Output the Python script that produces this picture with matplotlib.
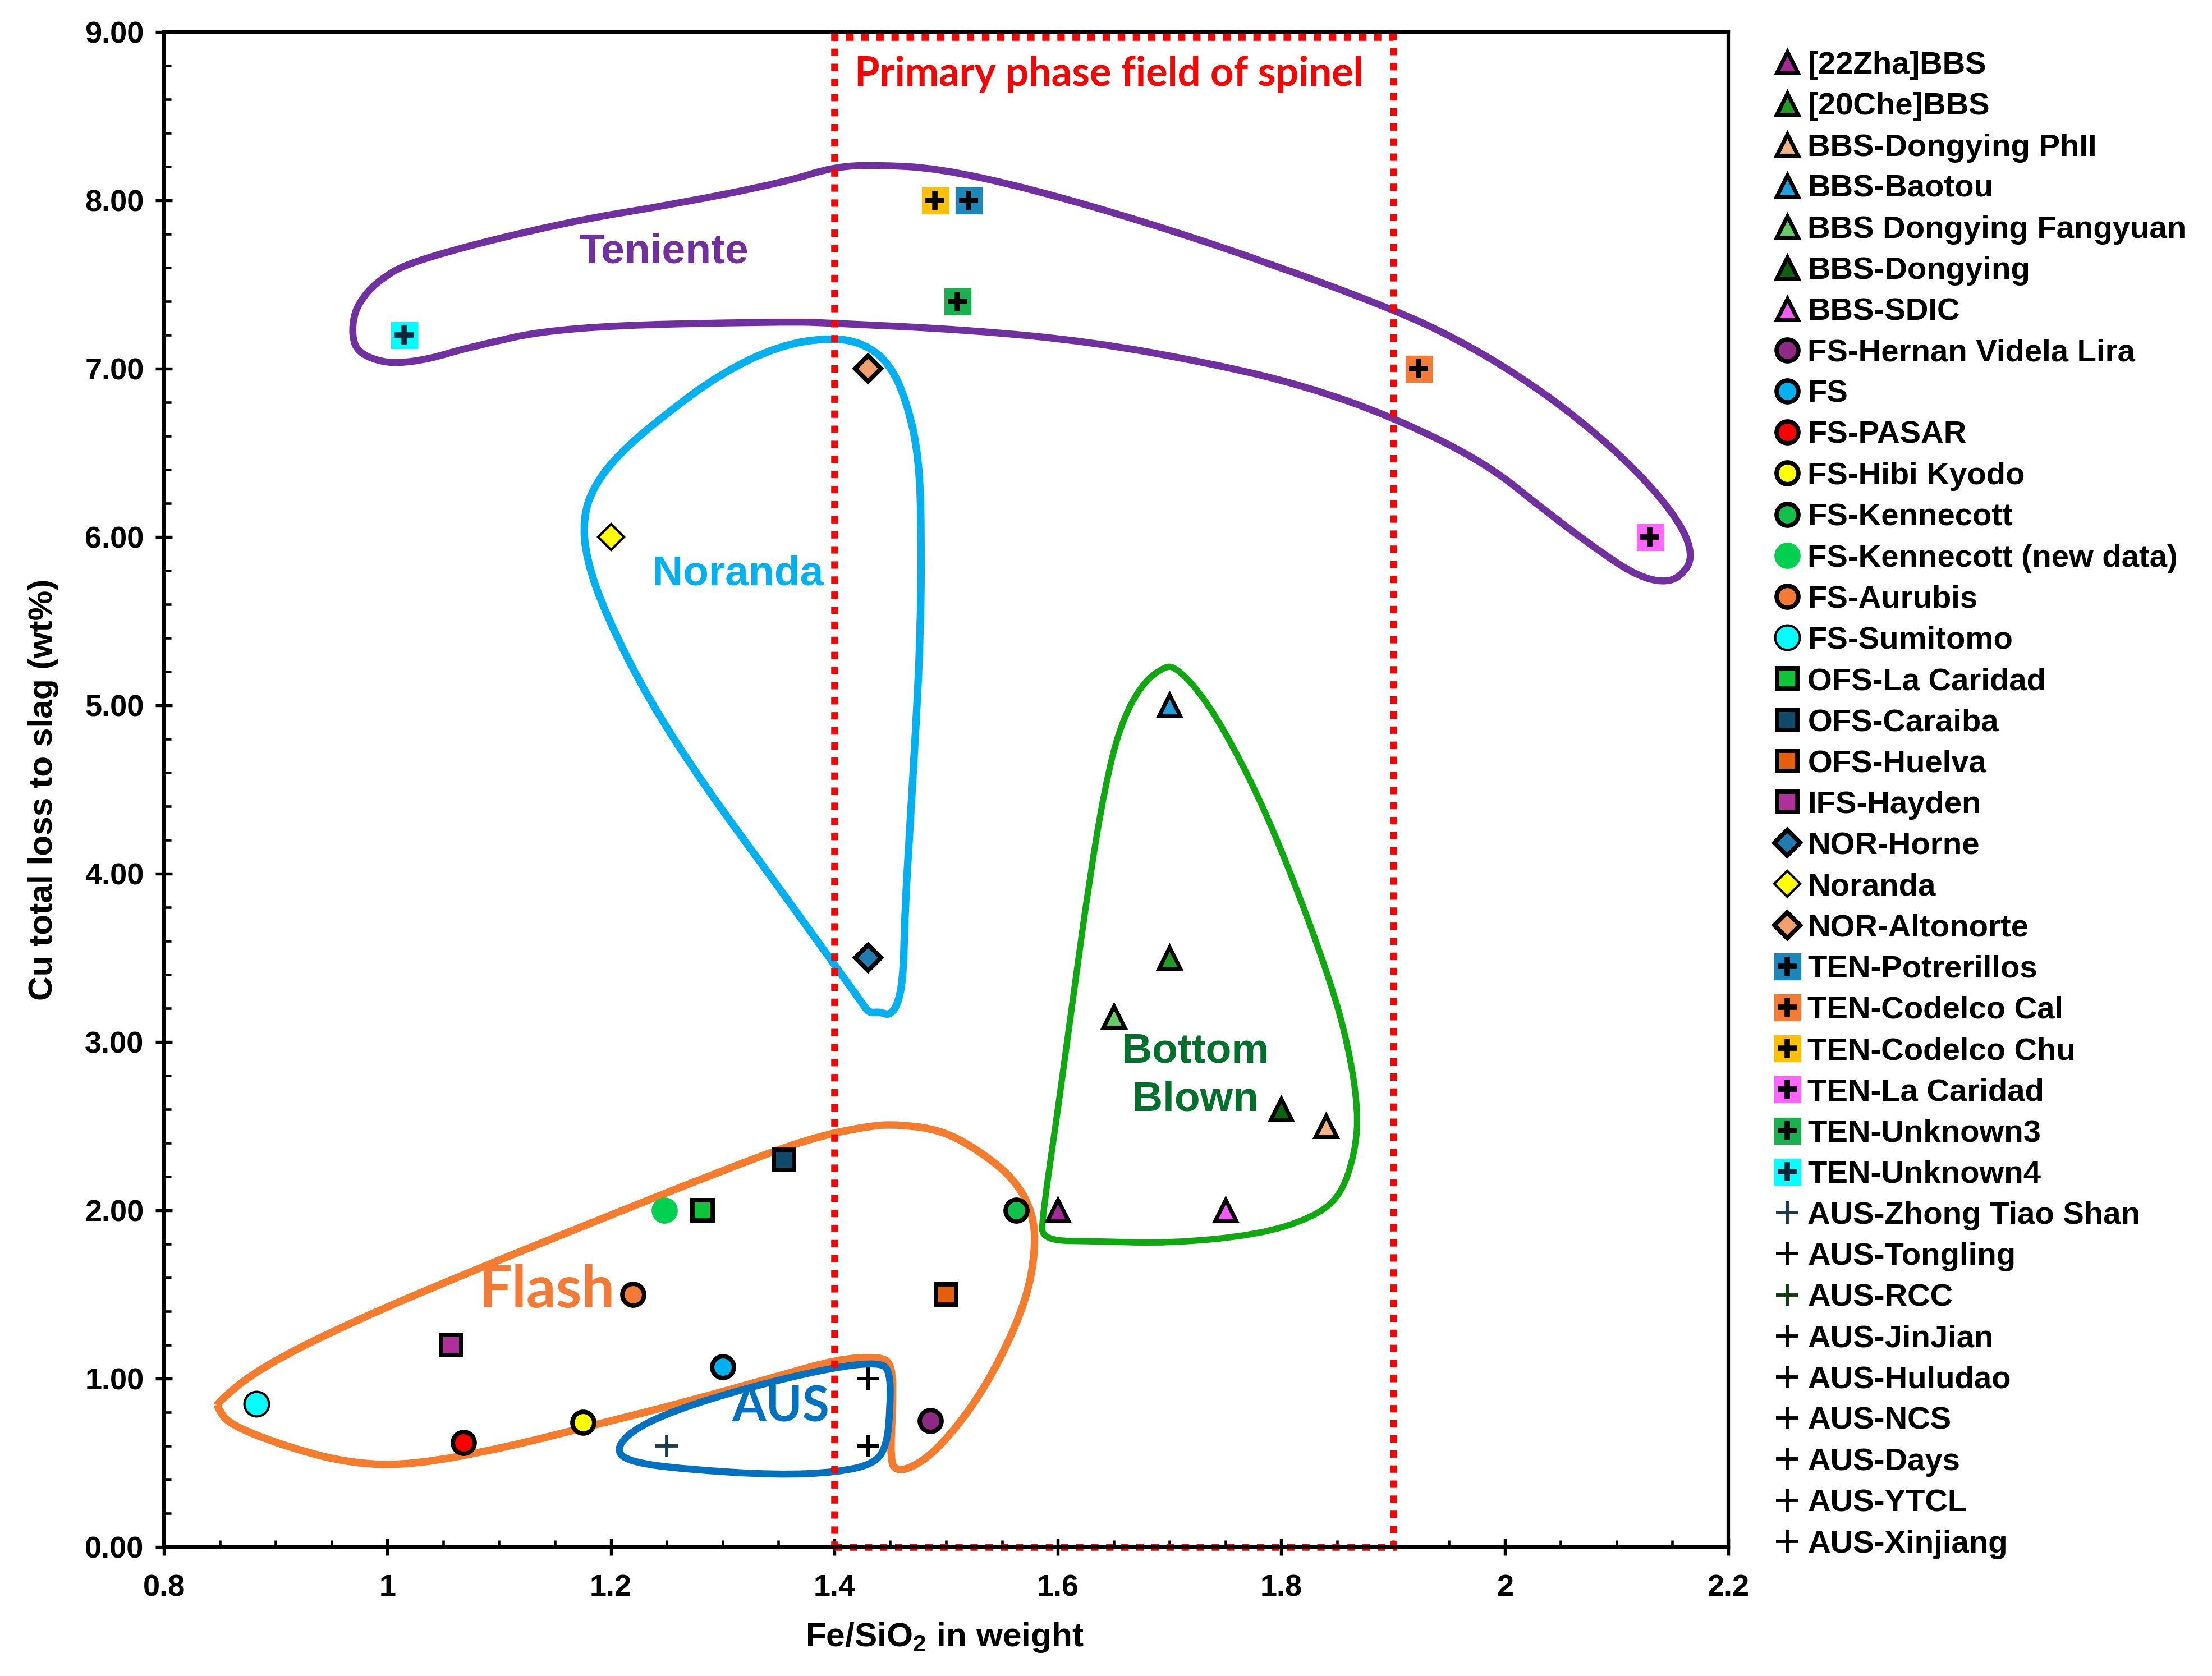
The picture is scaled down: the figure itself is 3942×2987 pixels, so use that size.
import matplotlib
matplotlib.use("Agg")
import matplotlib.pyplot as plt
from matplotlib.path import Path
from matplotlib.patches import PathPatch, Rectangle
from matplotlib.ticker import MultipleLocator, FuncFormatter
from matplotlib.legend_handler import HandlerTuple

plt.rcParams["font.family"] = ["Liberation Sans", "DejaVu Sans"]
plt.rcParams["font.weight"] = "bold"
plt.rcParams["axes.labelweight"] = "bold"
plt.rcParams["mathtext.fontset"] = "custom"
plt.rcParams["mathtext.rm"] = "Liberation Sans:bold"
plt.rcParams["mathtext.bf"] = "Liberation Sans:bold"

# ---- data (Fe/SiO2, Cu loss wt%) ----
names = ["[22Zha]BBS", "[20Che]BBS", "BBS-Dongying PhII", "BBS-Baotou", "BBS Dongying Fangyuan",
         "BBS-Dongying", "BBS-SDIC",
         "FS-Hernan Videla Lira", "FS", "FS-PASAR", "FS-Hibi Kyodo", "FS-Kennecott",
         "FS-Kennecott (new data)", "FS-Aurubis", "FS-Sumitomo",
         "OFS-La Caridad", "OFS-Caraiba", "OFS-Huelva", "IFS-Hayden",
         "NOR-Horne", "Noranda", "NOR-Altonorte",
         "TEN-Potrerillos", "TEN-Codelco Cal", "TEN-Codelco Chu", "TEN-La Caridad",
         "TEN-Unknown3", "TEN-Unknown4",
         "AUS-Zhong Tiao Shan", "AUS-Tongling", "AUS-RCC", "AUS-JinJian", "AUS-Huludao",
         "AUS-NCS", "AUS-Days", "AUS-YTCL", "AUS-Xinjiang"]

fe_sio2 = [[1.60], [1.70], [1.84], [1.70], [1.65], [1.80], [1.75],
           [1.486], [1.30], [1.068], [1.175], [1.563], [1.248], [1.22], [0.883],
           [1.282], [1.355], [1.50], [1.057],
           [1.43], [1.20], [1.43],
           [1.52], [1.923], [1.49], [2.13], [1.51], [1.015],
           [1.25], [1.43], [1.43], [1.43], [1.43], [1.43], [1.43], [1.43], [1.43]]

cu_loss = [[2.0], [3.5], [2.5], [5.0], [3.15], [2.6], [2.0],
           [0.75], [1.07], [0.62], [0.74], [2.0], [2.0], [1.5], [0.85],
           [2.0], [2.3], [1.5], [1.2],
           [3.5], [6.0], [7.0],
           [8.0], [7.0], [8.0], [6.0], [7.4], [7.2],
           [0.6], [1.0], [0.6], [0.6], [1.0], [0.6], [0.6], [1.0], [0.6]]

# ---- marker styles ----
kinds = ["tri"] * 7 + ["circ"] * 8 + ["sq"] * 4 + ["dia"] * 3 + ["ten"] * 6 + ["aus"] * 9
fills = ["#A52A98", "#1F9E1F", "#F4B183", "#1EA0DC", "#66CC66", "#0B640B", "#F25CF2",
         "#8E2A84", "#00B0F0", "#FF0000", "#FFFF00", "#12C04A", "#00D050", "#F47B35", "#00FFFF",
         "#10C43A", "#0E4A6B", "#E45F0C", "#B0309B",
         "#1F7BB0", "#FFFF00", "#F4A06A",
         "#1B86BA", "#F47B35", "#FFC000", "#FF66FF", "#19B050", "#00FFFF",
         "#1F3A4D", "black", "#0B3B0B", "black", "black", "black", "black", "black", "black"]
thin_edge = {"FS-Sumitomo", "Noranda"}
no_edge = {"FS-Kennecott (new data)"}

# ---- hand-drawn process envelopes ----
ten_x = [0.969, 0.974, 0.990, 1.022, 1.156, 1.26, 1.357, 1.400, 1.439, 1.493, 1.575, 1.684, 1.792,
         1.901, 1.956, 2.010, 2.065, 2.119, 2.157, 2.169, 2.157, 2.141, 2.119, 2.092, 2.037,
         1.983, 1.901, 1.820, 1.738, 1.630, 1.520, 1.400, 1.357, 1.156, 1.070, 1.038, 1.009,
         0.990, 0.974, 0.969]
ten_y = [7.282, 7.388, 7.515, 7.643, 7.867, 7.98, 8.11, 8.20, 8.21, 8.19, 8.07, 7.86, 7.62,
         7.35, 7.18, 6.97, 6.71, 6.39, 6.09, 5.88, 5.76, 5.73, 5.77, 5.88, 6.15,
         6.44, 6.71, 6.90, 7.03, 7.16, 7.23, 7.27, 7.28, 7.25, 7.122, 7.058, 7.031,
         7.048, 7.10, 7.175]

nor_x = [1.396, 1.427, 1.450, 1.465, 1.476, 1.478, 1.477, 1.473, 1.468, 1.463, 1.462, 1.458,
         1.450, 1.440, 1.431, 1.424, 1.388, 1.337, 1.285, 1.234, 1.196, 1.178, 1.175, 1.185,
         1.208, 1.247, 1.298, 1.350]
nor_y = [7.186, 7.15, 7.025, 6.80, 6.47, 5.975, 5.42, 4.87, 4.32, 3.76, 3.43, 3.24,
         3.156, 3.18, 3.17, 3.24, 3.57, 4.04, 4.51, 5.03, 5.53, 5.865, 6.113, 6.307,
         6.50, 6.72, 6.97, 7.136]

fla_x = [0.848, 0.886, 0.968, 1.077, 1.185, 1.294, 1.376, 1.431, 1.458, 1.496, 1.529, 1.561,
         1.578, 1.580, 1.572, 1.550, 1.523, 1.491, 1.469, 1.455, 1.450, 1.452, 1.452, 1.441,
         1.403, 1.349, 1.267, 1.185, 1.104, 1.022, 0.968, 0.913, 0.859, 0.848]
fla_y = [0.86, 1.065, 1.337, 1.643, 1.932, 2.221, 2.425, 2.502, 2.51, 2.476, 2.357, 2.188,
         1.983, 1.76, 1.473, 1.132, 0.826, 0.57, 0.469, 0.453, 0.52, 0.826, 1.081, 1.132,
         1.115, 1.014, 0.861, 0.724, 0.588, 0.486, 0.495, 0.588, 0.724, 0.826]

aus_x = [1.441, 1.397, 1.322, 1.256, 1.218, 1.204, 1.218, 1.267, 1.349, 1.403, 1.436, 1.447,
         1.450, 1.450]
aus_y = [1.098, 1.065, 0.946, 0.81, 0.69, 0.572, 0.503, 0.461, 0.427, 0.444, 0.494, 0.603,
         0.826, 1.04]

bb_x = [1.696, 1.674, 1.655, 1.642, 1.629, 1.613, 1.600, 1.586, 1.586, 1.635, 1.699, 1.779,
        1.828, 1.853, 1.866, 1.869, 1.860, 1.844, 1.812, 1.780, 1.748, 1.725, 1.706]
bb_y = [5.235, 5.12, 4.865, 4.507, 3.998, 3.231, 2.594, 1.956, 1.82, 1.816, 1.803, 1.854,
        1.956, 2.084, 2.339, 2.594, 2.977, 3.36, 3.946, 4.456, 4.865, 5.095, 5.222]

spinel_x = (1.4, 1.9)
spinel_top = 8.97


def smooth_closed(xs, ys):
    pts = list(zip(xs, ys))
    n = len(pts)
    mids = [((pts[i][0] + pts[(i + 1) % n][0]) / 2, (pts[i][1] + pts[(i + 1) % n][1]) / 2)
            for i in range(n)]
    verts = [mids[-1]]
    codes = [Path.MOVETO]
    for i in range(n):
        verts += [pts[i], mids[i]]
        codes += [Path.CURVE3, Path.CURVE3]
    return Path(verts, codes)


fig = plt.figure(figsize=(13.14, 9.957), dpi=300)
ax = fig.add_axes([0.0741, 0.0770, 0.7072, 0.9039])

for xs, ys, col, lw in [(ten_x, ten_y, "#7030A0", 3.0), (nor_x, nor_y, "#00B0F0", 3.2),
                        (fla_x, fla_y, "#F57C2C", 3.2), (aus_x, aus_y, "#0070C0", 3.0),
                        (bb_x, bb_y, "#10A810", 2.7)]:
    ax.add_patch(PathPatch(smooth_closed(xs, ys), fill=False, ec=col, lw=lw,
                           joinstyle="round", zorder=2))

ax.add_patch(Rectangle((spinel_x[0], 0), spinel_x[1] - spinel_x[0], spinel_top, fill=False,
                       ec="#FF0000", lw=3.0, linestyle=(0, (1.05, 1.1)), zorder=2.5, clip_on=False))

handles = []
for name, xs, ys, kind, fc in zip(names, fe_sio2, cu_loss, kinds, fills):
    mew = 1.0 if name in thin_edge else 1.9
    ec = fc if name in no_edge else "black"
    if kind == "tri":
        h, = ax.plot(xs, ys, ls="none", marker="^", ms=9.3, mfc=fc, mec=ec, mew=1.7, zorder=4)
    elif kind == "circ":
        ms = 10.5 if name == "FS-Sumitomo" else 9.3
        h, = ax.plot(xs, ys, ls="none", marker="o", ms=ms, mfc=fc, mec=ec, mew=mew, zorder=4)
    elif kind == "sq":
        h, = ax.plot(xs, ys, ls="none", marker="s", ms=8.6, mfc=fc, mec=ec, mew=1.9, zorder=4)
    elif kind == "dia":
        h, = ax.plot(xs, ys, ls="none", marker="D", ms=7.8, mfc=fc, mec=ec, mew=mew, zorder=4)
    elif kind == "ten":
        pc = "#10243a" if name == "TEN-Unknown4" else "black"
        h1, = ax.plot(xs, ys, ls="none", marker="s", ms=10.8, mfc=fc, mec=fc, mew=0.8, zorder=4)
        h2, = ax.plot(xs, ys, ls="none", marker="+", ms=8, mec=pc, mew=2.3, zorder=5)
        h = (h1, h2)
    else:
        h, = ax.plot(xs, ys, ls="none", marker="+", ms=9.5, mec=fc, mew=1.4, zorder=4)
    handles.append(h)

# region labels
ax.text(1.247, 7.695, "Teniente", color="#7030A0", fontsize=18, ha="center", va="center")
ax.text(1.314, 5.78, "Noranda", color="#00B0F0", fontsize=18, ha="center", va="center")
ax.text(1.723, 2.80, "Bottom\nBlown", color="#00702A", fontsize=18, ha="center", va="center",
        linespacing=1.3)
ax.text(1.143, 1.525, "Flash", color="#F47B35", fontsize=25, ha="center", va="center",
        family=["Lato", "DejaVu Sans"])
ax.text(1.352, 0.83, "AUS", color="#0070C0", fontsize=21, ha="center", va="center",
        family=["Lato", "DejaVu Sans"])
ax.text(1.646, 8.75, "Primary phase field of spinel", color="#FF0000", fontsize=17.3,
        ha="center", va="center", family=["Lato", "DejaVu Sans"])

ax.set_xlim(0.8, 2.2)
ax.set_ylim(0, 9)
ax.xaxis.set_major_locator(MultipleLocator(0.2))
ax.xaxis.set_minor_locator(MultipleLocator(0.05))
ax.yaxis.set_major_locator(MultipleLocator(1))
ax.yaxis.set_minor_locator(MultipleLocator(0.2))
ax.xaxis.set_major_formatter(FuncFormatter(lambda v, p: f"{v:g}"))
ax.yaxis.set_major_formatter(FuncFormatter(lambda v, p: f"{v:.2f}"))
ax.tick_params(which="major", direction="inout", length=7, width=1.3, labelsize=13)
ax.tick_params(axis="x", which="major", pad=8)
ax.tick_params(axis="y", which="major", pad=5)
ax.tick_params(which="minor", direction="in", length=3, width=1.1)
for sp in ax.spines.values():
    sp.set_linewidth(1.5)

ax.set_xlabel(r"Fe/SiO$_\mathbf{2}$ in weight", fontsize=14.5)
ax.set_ylabel("Cu total loss to slag (wt%)", fontsize=14.5)
ax.xaxis.set_label_coords(0.499, -0.049)
ax.yaxis.set_label_coords(-0.067, 0.5)

fig.legend(handles, names, loc="upper left", bbox_to_anchor=(0.8015, 0.9695), frameon=False,
           fontsize=13.5, handlelength=0.9, handletextpad=0.2, labelspacing=0.377,
           borderpad=0, borderaxespad=0, numpoints=1,
           handler_map={tuple: HandlerTuple(ndivide=1)})

fig.savefig("out.png", dpi=300)
